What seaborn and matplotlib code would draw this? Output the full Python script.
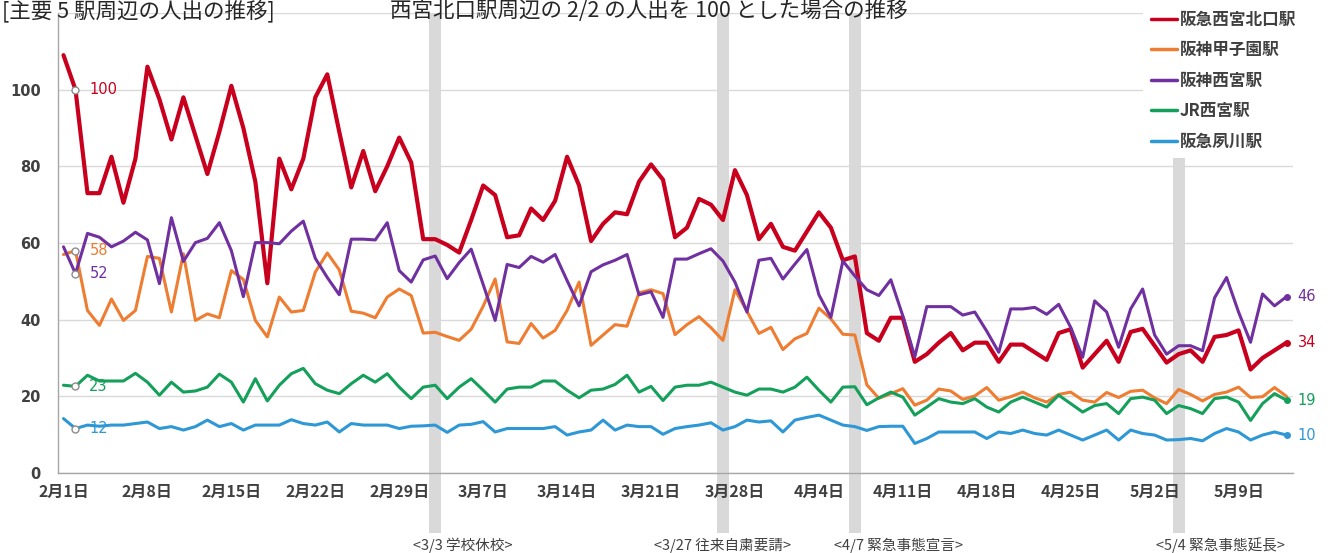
"""
西宮市 主要5駅周辺の人出の推移 (西宮北口駅周辺 2/2 = 100)
"""

import matplotlib
matplotlib.use("Agg")
import matplotlib.pyplot as plt
import numpy as np
import pandas as pd
import seaborn as sns

# ---------------------------------------------------------------------------
# data (daily, 2020/2/1 - 5/13)
DATES = pd.date_range("2020-02-01", "2020-05-13", freq="D")

STATIONS = ["阪急西宮北口駅", "阪神甲子園駅", "阪神西宮駅", "JR西宮駅", "阪急夙川駅"]

hankyu_nishinomiya_kitaguchi = [
    109, 100, 73, 73, 82.5, 70.5, 82, 106, 97.5, 87,
    98, 88, 78, 89, 101, 90, 76, 49.5, 82, 74,
    82, 98, 104, 89, 74.5, 84, 73.5, 80, 87.5, 81,
    61, 61, 59.5, 57.5, 66, 75, 72.5, 61.5, 62, 69,
    66, 71, 82.5, 75, 60.5, 65, 68, 67.5, 76, 80.5,
    76.5, 61.5, 64, 71.5, 70, 66, 79, 72.5, 61, 65,
    59, 58, 63, 68, 64, 55.5, 56.5, 36.5, 34.5, 40.5,
    40.5, 29, 31, 34, 36.5, 32, 34, 34, 29, 33.5,
    33.5, 31.5, 29.5, 36.5, 37.5, 27.5, 31, 34.5, 29, 36.8,
    37.6, 33.2, 28.8, 31, 32, 29, 35.5, 36, 37.2, 27,
    30, 32, 34,
]
hanshin_koshien = [
    57, 58, 42.4, 38.5, 45.4, 39.8, 42.4, 56.5, 56, 42,
    57.2, 39.8, 41.5, 40.5, 52.8, 50.5, 39.8, 35.5, 45.9, 42,
    42.4, 52.4, 57.4, 53, 42.2, 41.7, 40.5, 45.9, 48, 46.3,
    36.5, 36.7, 35.6, 34.6, 37.5, 43.5, 50.6, 34.2, 33.8, 39,
    35.2, 37.2, 42.4, 49.8, 33.3, 36, 38.7, 38.3, 47, 47.8,
    46.8, 36.1, 38.7, 40.8, 37.9, 34.6, 47.8, 42.2, 36.4, 38,
    32.2, 35, 36.4, 43, 40.2, 36.2, 36, 23, 19.5, 20.7,
    22, 17.7, 19, 21.9, 21.4, 19.2, 20.1, 22.3, 19, 19.9,
    21.1, 19.6, 18.5, 20.5, 21.1, 19, 18.5, 21, 19.7, 21.3,
    21.6, 19.6, 18.1, 21.8, 20.5, 18.8, 20.5, 21.1, 22.4, 19.7,
    19.9, 22.3, 20,
]
hanshin_nishinomiya = [
    59, 52, 62.5, 61.5, 59, 60.5, 62.8, 60.8, 49.4, 66.6,
    55.2, 60.1, 61.2, 65.3, 58, 46, 60.1, 60.1, 59.8, 63.1,
    65.7, 56, 51, 46.5, 61, 61, 60.8, 65.3, 52.8, 49.8,
    55.6, 56.6, 50.7, 54.9, 58.4, 49.2, 39.8, 54.4, 53.6, 56.5,
    55, 57, 50.2, 43.6, 52.5, 54.3, 55.5, 57, 46.5, 47.3,
    40.6, 55.8, 55.8, 57.2, 58.5, 55.3, 49.8, 42, 55.5, 56,
    50.6, 54.5, 58.3, 46.5, 40.6, 55.3, 51.4, 47.8, 46.3, 50.4,
    41, 30.3, 43.4, 43.4, 43.4, 41.2, 42, 37, 31.5, 42.8,
    42.8, 43.2, 41.4, 44, 38, 30.2, 44.9, 42, 32.8, 42.8,
    48, 36, 31, 33.2, 33.2, 31.9, 45.7, 51, 42, 34.1,
    46.7, 43.6, 46,
]
jr_nishinomiya = [
    22.9, 22.6, 25.5, 24, 24, 24, 26, 23.7, 20.3, 23.7,
    21.1, 21.4, 22.4, 25.8, 23.7, 18.5, 24.6, 18.8, 22.9, 25.9,
    27.3, 23.3, 21.6, 20.7, 23.3, 25.5, 23.7, 25.9, 22.4, 19.4,
    22.4, 22.9, 19.4, 22.4, 24.6, 21.6, 18.5, 21.9, 22.4, 22.4,
    24, 24, 21.6, 19.6, 21.6, 21.9, 23.1, 25.5, 21.1, 22.6,
    18.9, 22.4, 22.9, 22.9, 23.7, 22.4, 21.1, 20.3, 21.9, 21.9,
    21.1, 22.4, 25, 21.6, 18.5, 22.4, 22.5, 17.8, 19.6, 21.1,
    19.8, 15.1, 17.2, 19.4, 18.5, 18.1, 19.4, 17.2, 15.9, 18.5,
    19.8, 18.5, 17.2, 20.3, 18.1, 15.9, 17.6, 18.1, 15.5, 19.4,
    19.8, 19, 15.5, 17.6, 16.8, 15.5, 19.4, 19.8, 18.5, 13.7,
    18.1, 20.7, 19,
]
hankyu_shukugawa = [
    14.2, 11.6, 12.5, 12.2, 12.5, 12.5, 12.9, 13.3, 11.6, 12.1,
    11.2, 12.1, 13.8, 12.1, 12.9, 11.2, 12.5, 12.5, 12.5, 13.9,
    12.9, 12.5, 13.3, 10.7, 12.9, 12.5, 12.5, 12.5, 11.6, 12.2,
    12.3, 12.5, 10.6, 12.5, 12.7, 13.4, 10.7, 11.6, 11.6, 11.6,
    11.6, 12.1, 9.9, 10.7, 11.2, 13.8, 11.2, 12.5, 12.1, 12.1,
    10.1, 11.6, 12.1, 12.5, 13.1, 11.2, 12.1, 13.8, 13.3, 13.6,
    10.7, 13.8, 14.5, 15.1, 13.8, 12.5, 12.1, 11.1, 12.1, 12.2,
    12.2, 7.7, 9, 10.7, 10.7, 10.7, 10.7, 9, 10.7, 10.3,
    11.2, 10.3, 9.9, 11.2, 9.9, 8.6, 9.9, 11.2, 8.6, 11.2,
    10.3, 9.9, 8.6, 8.7, 9, 8.4, 10.3, 11.6, 10.7, 8.6,
    9.9, 10.7, 9.9,
]

SERIES = [hankyu_nishinomiya_kitaguchi, hanshin_koshien, hanshin_nishinomiya,
          jr_nishinomiya, hankyu_shukugawa]

# stations that carry a value label at the last day
END_LABELED = ["阪急西宮北口駅", "阪神西宮駅", "JR西宮駅", "阪急夙川駅"]

EVENT_DATES  = ["2020-03-03", "2020-03-27", "2020-04-07", "2020-05-04"]
EVENT_LABELS = ["<3/3 学校休校>", "<3/27 往来自粛要請>", "<4/7 緊急事態宣言>", "<5/4 緊急事態延長>"]

TITLE_LEFT  = "[主要 5 駅周辺の人出の推移]"
TITLE_RIGHT = "西宮北口駅周辺の 2/2 の人出を 100 とした場合の推移"
BASE_DATE   = "2020-02-02"

# ---------------------------------------------------------------------------
COLORS  = ["#c8001e", "#ee7d31", "#7030a0", "#14a05a", "#2e98d6"]
WIDTHS  = [3.0, 2.2, 2.2, 2.2, 2.2]
EVENT_DX = [-16, 0, -15, -16]           # label offset from band (pt)
EVENT_HA = ["left", "center", "left", "left"]
GRID    = "#d9d9d9"
AXIS    = "#a6a6a6"
TEXT    = "#404040"

W, H = 1335, 553

sns.set_style("white")
plt.rcParams["font.family"] = ["Noto Sans CJK JP", "DejaVu Sans"]

fig = plt.figure(figsize=(W / 100, H / 100), dpi=100)
ax = fig.add_axes([57.5 / W, 1 - 473 / H, (1292.5 - 57.5) / W, (473 - 13) / H])

days = np.arange(len(DATES))

# event bands
for d in EVENT_DATES:
    i = DATES.get_loc(pd.Timestamp(d))
    ax.axvspan(i - 0.5, i + 0.5, ymin=-0.13, ymax=1, color=GRID,
               lw=0, zorder=0.5, clip_on=False)

for name, vals, col, lw in zip(STATIONS, SERIES, COLORS, WIDTHS):
    sns.lineplot(x=days, y=vals, ax=ax, color=col, lw=lw, label=name, zorder=3)

# value labels at the base day and the last day
b = DATES.get_loc(pd.Timestamp(BASE_DATE))
for name, vals, col in zip(STATIONS, SERIES, COLORS):
    ax.plot(b, vals[b], "o", ms=5, mfc="white", mec="#8c8c8c", mew=1, zorder=4)
    ax.annotate(f"{round(vals[b])}", (b, vals[b]), xytext=(10, 0),
                textcoords="offset points", va="center", ha="left",
                color=col, fontsize=10.5, family="DejaVu Sans")
    if name in END_LABELED:
        ax.plot(days[-1], vals[-1], "o", ms=4, color=col, zorder=4)
        ax.annotate(f"{round(vals[-1])}", (days[-1], vals[-1]), xytext=(8, 0),
                    textcoords="offset points", va="center", ha="left",
                    color=col, fontsize=10.5, family="DejaVu Sans")

# event labels under the axis
for d, lab, dx, ha in zip(EVENT_DATES, EVENT_LABELS, EVENT_DX, EVENT_HA):
    i = DATES.get_loc(pd.Timestamp(d))
    ax.annotate(lab, (i, -0.157), xycoords=ax.get_xaxis_transform(),
                xytext=(dx, 0), textcoords="offset points", ha=ha, va="center",
                fontsize=10.5, color=TEXT, annotation_clip=False)

ax.set_xlim(-0.5, len(DATES) - 0.5)
ax.set_ylim(0, 120)
ax.set_xlabel("")
ax.set_ylabel("")

ax.set_yticks(range(0, 121, 20))
ax.set_yticklabels([str(v) if v <= 100 else "" for v in range(0, 121, 20)],
                   fontsize=10.5, fontweight="bold", color=TEXT, family="DejaVu Sans")
ax.yaxis.grid(True, color=GRID, lw=1)
ax.set_axisbelow(True)

major = days[::7]
ax.set_xticks(major)
ax.set_xticklabels([f"{d.month}月{d.day}日" for d in DATES[::7]],
                   fontsize=11.5, fontweight="bold", color=TEXT)
ax.set_xticks(days, minor=True)
ax.tick_params(axis="x", which="both", direction="out", length=4, color=AXIS, pad=4)
ax.tick_params(axis="y", length=0, pad=12)

for s in ["top", "right"]:
    ax.spines[s].set_visible(False)
for s in ["left", "bottom"]:
    ax.spines[s].set_color(AXIS)
    ax.spines[s].set_linewidth(1)

leg = ax.legend(loc="upper left", bbox_to_anchor=(1143 / W, 1 - 3 / H),
                bbox_transform=fig.transFigure, frameon=True, fancybox=False,
                facecolor="white", edgecolor="none", framealpha=1,
                prop={"size": 12, "weight": "bold"}, handlelength=1.6,
                handletextpad=0.15, labelspacing=0.75, borderpad=0.45,
                borderaxespad=0)
for t in leg.get_texts():
    t.set_color(TEXT)
for h in leg.get_lines():
    h.set_linewidth(2.5)
leg.set_zorder(10)

fig.text(2 / W, 1 - 17 / H, TITLE_LEFT, fontsize=15.5, color="#262626", va="baseline")
fig.text(390 / W, 1 - 17 / H, TITLE_RIGHT, fontsize=15.5, color="#262626", va="baseline")

fig.savefig("out.png", dpi=100)
plt.close(fig)
